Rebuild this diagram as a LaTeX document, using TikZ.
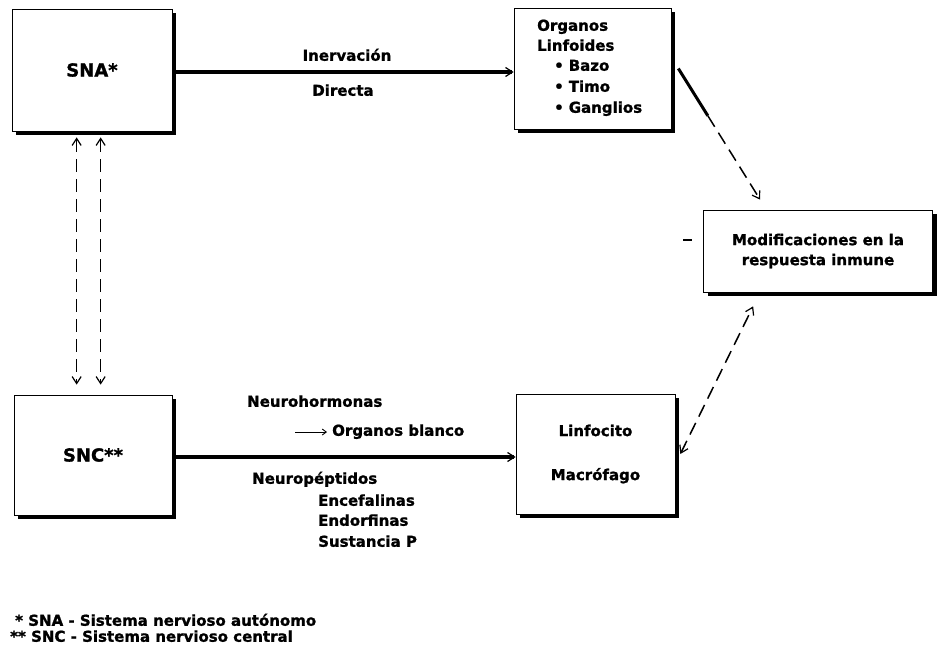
\documentclass[tikz,border=0pt]{standalone}
\usepackage{fontspec}
\setmainfont{DejaVu Sans}[BoldFeatures={FakeBold=1.2}]
\usetikzlibrary{arrows.meta,shadows,calc}

\begin{document}
\begin{tikzpicture}[x=1pt,y=-1pt,
  box/.style={draw=black, line width=0.7pt, fill=white, inner sep=0pt,
    drop shadow={shadow xshift=4pt, shadow yshift=-4pt, fill=black, opacity=1}},
  lbl/.style={font=\fontsize{15}{18}\selectfont\bfseries, inner sep=0pt,
    text height=10.5pt, text depth=3pt},
  big/.style={font=\fontsize{18}{20}\selectfont\bfseries, inner sep=0pt},
  barb/.tip={Straight Barb[line width=1.2pt, length=7pt, width=9pt]},
  mainarrow/.style={line width=3.2pt, -barb},
  linkarrow/.style={line width=1.5pt, dash pattern=on 13pt off 7pt},
]
\useasboundingbox (0,0) rectangle (938,648);
\fill[white] (0,0) rectangle (938,648);

% boxes
\node[box, big, minimum width=160pt, minimum height=122pt] (sna) at (92,70) {SNA*};
\node[box, minimum width=157pt, minimum height=121pt] (org) at (592.5,68.5) {};
\node[box, lbl, text height=, text depth=, align=center,
      font=\fontsize{15}{20}\selectfont\bfseries,
      minimum width=229pt, minimum height=82pt] (mod) at (818,251)
      {Modificaciones en la\\respuesta inmune};
\node[box, big, minimum width=158pt, minimum height=120pt] (snc) at (93,455) {SNC**};
\node[box, lbl, text height=, text depth=, align=center,
      font=\fontsize{15}{44}\selectfont\bfseries,
      minimum width=159pt, minimum height=120pt] (lin) at (595.5,454)
      {Linfocito\\Macrófago};

% contents of the lymphoid organ box
\node[lbl, anchor=west] (org1) at (537,27) {Organos};
\node[lbl, anchor=west] (org2) at (537,47) {Linfoides};
\node[lbl, anchor=west] (org3) at (554,67) {•\hspace{5pt}Bazo};
\node[lbl, anchor=west] (org4) at (554,88) {•\hspace{5pt}Timo};
\node[lbl, anchor=west] (org5) at (554,109) {•\hspace{5pt}Ganglios};

% SNA -> lymphoid organs
\draw[mainarrow] ([yshift=-2pt]sna.east) -- ([yshift=-2pt]sna.east -| org.west);
\node[lbl] (inerv) at (347,57) {Inervación};
\node[lbl] (direc) at (343,92) {Directa};

% SNC -> lymphocyte / macrophage
\draw[mainarrow] ([yshift=-2pt]snc.east) -- ([yshift=-2pt]snc.east -| lin.west);
\node[lbl, anchor=west] (neuroh) at (247,403) {Neurohormonas};
\coordinate (sa1) at (295,432);
\coordinate (sa2) at (327,432);
\draw[line width=1pt, -{Straight Barb[line width=0.9pt, length=4pt, width=6pt]}] (sa1) -- (sa2);
\node[lbl, anchor=west] (blanco) at (332,432) {Organos blanco};
\node[lbl, anchor=west] (neurop) at (252,480) {Neuropéptidos};
\node[lbl, anchor=west] (encef) at (318,502) {Encefalinas};
\node[lbl, anchor=west] (endor) at (318,522) {Endorfinas};
\node[lbl, anchor=west] (sustp) at (318,543) {Sustancia P};

% SNA <-> SNC
\coordinate (v1) at ([xshift=65pt]sna.south west);
\coordinate (v2) at ([xshift=89pt]sna.south west);
\draw[linkarrow, barb-barb, shorten <=6pt, shorten >=10pt] (v1) -- (v1 |- snc.north);
\draw[linkarrow, barb-barb, shorten <=6pt, shorten >=10pt] (v2) -- (v2 |- snc.north);

% lymphoid organs -> immune response
\coordinate (o1) at ([xshift=7pt]org.east);
\coordinate (o2) at ([xshift=57pt,yshift=10pt]mod.north west);
\coordinate (om) at ($(o1)!0.36!(o2)$);
\draw[line width=3pt] (o1) -- (om);
\draw[linkarrow, -barb] (om) -- (o2);

% lymphocyte / macrophage <-> immune response
\coordinate (l1) at ([xshift=5pt]lin.east);
\coordinate (l2) at ([xshift=50pt,yshift=-14pt]mod.south west);
\draw[linkarrow, barb-barb] (l1) -- (l2);

% short mark left of the response box
\draw[line width=1.5pt] ([xshift=-20pt,yshift=11pt]mod.west) -- ([xshift=-11pt,yshift=11pt]mod.west);

% footnotes
\node[lbl, anchor=west] (fn1) at (15,622) {* SNA - Sistema nervioso autónomo};
\node[lbl, anchor=west] (fn2) at (10,638) {** SNC - Sistema nervioso central};
\end{tikzpicture}
\end{document}
